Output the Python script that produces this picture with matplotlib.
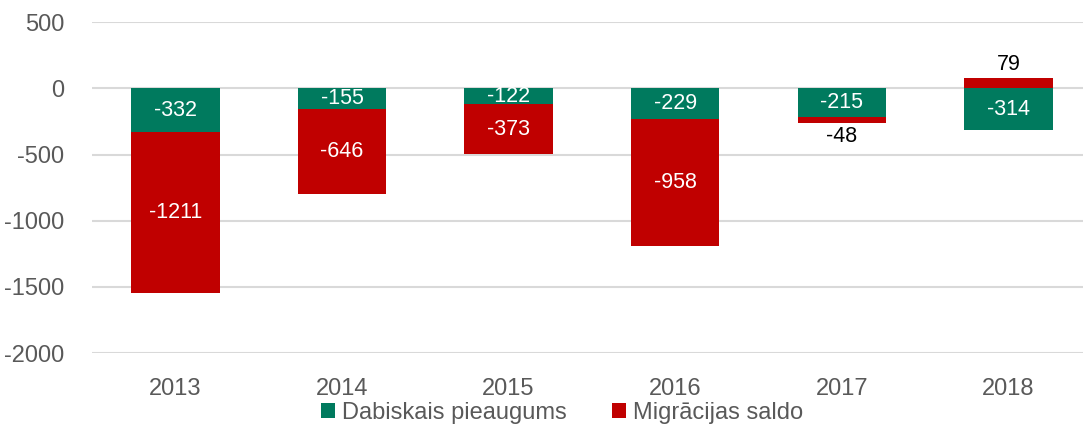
import numpy as np
import matplotlib.pyplot as plt

plt.rcParams['font.family'] = ['Liberation Sans', 'DejaVu Sans']
plt.rcParams['axes.unicode_minus'] = False

years = ['2013', '2014', '2015', '2016', '2017', '2018']
natural = [-332, -155, -122, -229, -215, -314]
migration = [-1211, -646, -373, -958, -48, 79]

green = '#007A5E'
red = '#C00000'
grey = '#595959'

fig = plt.figure(figsize=(10.83, 4.25), dpi=100)
ax = fig.add_axes([0.085, 0.169, 0.923, 0.779])

x = np.arange(len(years))
nat = np.array(natural)
mig = np.array(migration)
mig_bottom = np.where(mig < 0, nat, 0)

w = 0.53
ax.bar(x, nat, w, color=green, label='Dabiskais pieaugums', zorder=3)
ax.bar(x, mig, w, bottom=mig_bottom, color=red, label='Migrācijas saldo', zorder=3)

for i in range(len(years)):
    ax.text(x[i], nat[i] / 2, str(nat[i]), ha='center', va='center',
            color='white', fontsize=15.5, zorder=4)
    if abs(mig[i]) > 100:
        ax.text(x[i], mig_bottom[i] + mig[i] / 2, str(mig[i]), ha='center',
                va='center', color='white', fontsize=15.5, zorder=4)
    elif mig[i] < 0:
        ax.text(x[i], mig_bottom[i] + mig[i] - 25, str(mig[i]), ha='center',
                va='top', color='black', fontsize=15.5, zorder=4)
    else:
        ax.text(x[i], mig[i] + 20, str(mig[i]), ha='center',
                va='bottom', color='black', fontsize=15.5, zorder=4)

ax.set_ylim(-2000, 500)
ax.set_xlim(-0.5, 5.5)
ax.set_yticks(np.arange(-2000, 501, 500))
ax.set_xticks(x)
ax.set_xticklabels(years)
ax.yaxis.grid(True, color='#D9D9D9', linewidth=1.5, zorder=0)
ax.set_axisbelow(True)
for s in ax.spines.values():
    s.set_visible(False)
ax.tick_params(axis='both', length=0, labelsize=17, labelcolor=grey)
ax.tick_params(axis='x', pad=18)
ax.tick_params(axis='y', pad=20)

ax.legend(loc='upper center', bbox_to_anchor=(0.47, -0.148), ncol=2, frameon=False,
          fontsize=17, labelcolor=grey, handlelength=0.6, handleheight=0.6,
          handletextpad=0.3, columnspacing=1.9, borderaxespad=0, borderpad=0)

fig.savefig('out.png', dpi=100)
